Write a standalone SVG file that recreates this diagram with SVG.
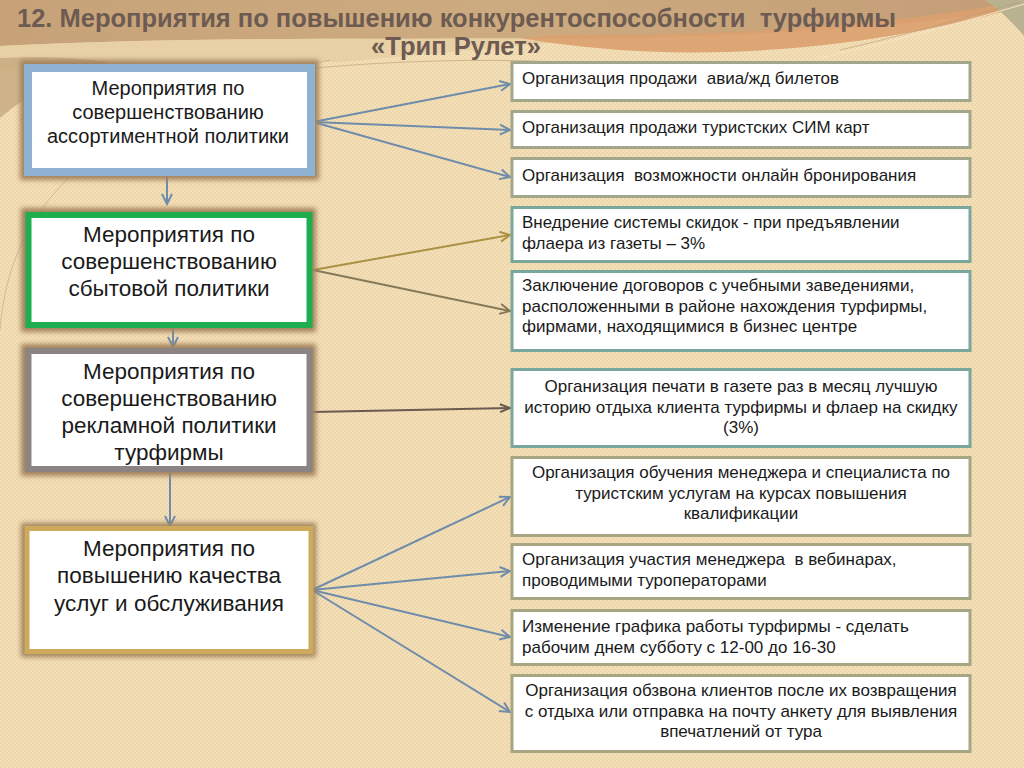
<svg xmlns="http://www.w3.org/2000/svg" width="1024" height="768" viewBox="0 0 1024 768" xml:space="preserve">
<defs>
<style>
text{white-space:pre}
.t{font-family:"Liberation Sans",Arial,sans-serif;fill:#1a1a1a}
.title{font-family:"Liberation Sans",Arial,sans-serif;font-weight:bold;font-size:25.5px;fill:#6d5b52}
.lt{font-size:22.5px;text-anchor:middle}
.la{font-size:20px;text-anchor:middle}
.rt{font-size:17px}
.rc{font-size:17px;text-anchor:middle}
.rb{fill:#fff;stroke-width:3}
.g1{stroke:#a2a68b}
.g2{stroke:#7aa79b}
.g3{stroke:#a6a683}
.lb{fill:#fff}
.sh{fill:#a3835f;filter:url(#blur)}
.c{fill:none;stroke-width:2}
</style>
<filter id="blur" x="-10%" y="-20%" width="120%" height="140%"><feGaussianBlur stdDeviation="2.5"/></filter>
<filter id="soft" x="-20%" y="-50%" width="140%" height="200%"><feGaussianBlur stdDeviation="4"/></filter>
<pattern id="tex" width="4" height="4" patternUnits="userSpaceOnUse">
<path d="M0,4 L4,0" stroke="#b89868" stroke-width="0.6" opacity="0.35"/>
<path d="M0,0 L4,4" stroke="#ffffff" stroke-width="0.5" opacity="0.25"/>
</pattern>
<linearGradient id="topg" x1="0" y1="0" x2="1" y2="0">
<stop offset="0" stop-color="#c7a279"/>
<stop offset="0.5" stop-color="#cdab80"/>
<stop offset="1" stop-color="#c39d76"/>
</linearGradient>
<marker id="mb" markerUnits="userSpaceOnUse" markerWidth="14" markerHeight="14" refX="11" refY="6" orient="auto"><path d="M1,1 L11,6 L1,11" fill="none" stroke="#6f8cab" stroke-width="2"/></marker>
<marker id="mg" markerUnits="userSpaceOnUse" markerWidth="14" markerHeight="14" refX="11" refY="6" orient="auto"><path d="M1,1 L11,6 L1,11" fill="none" stroke="#ab9243" stroke-width="2"/></marker>
<marker id="mo" markerUnits="userSpaceOnUse" markerWidth="14" markerHeight="14" refX="11" refY="6" orient="auto"><path d="M1,1 L11,6 L1,11" fill="none" stroke="#857a58" stroke-width="2"/></marker>
<marker id="md" markerUnits="userSpaceOnUse" markerWidth="14" markerHeight="14" refX="11" refY="6" orient="auto"><path d="M1,2 L11,6 L1,10" fill="none" stroke="#6b5a4f" stroke-width="2"/></marker>
</defs>

<g id="background">
<rect width="1024" height="768" fill="#f3ddb3"/>
<rect width="1024" height="768" fill="url(#tex)"/>
<path d="M0,0 H1024 V8 C900,28 760,36 600,38 C420,40 200,36 0,46 Z" fill="url(#topg)"/>
<path d="M0,46 C200,36 420,40 600,38 C480,50 380,58 340,62 C200,58 80,60 0,70 Z" fill="#e6cda3" opacity="0.8"/>
<path d="M0,58 C40,56 80,58 110,62 C70,74 30,92 0,118 Z" fill="#c8ab80" opacity="0.85"/>
<path d="M520,38 C680,66 860,52 1024,6 L1024,0 C880,28 720,36 560,35 Z" fill="#dba06e" opacity="0.9"/>
<path d="M985,0 H1024 V36 C1010,20 1000,10 985,0 Z" fill="#b9b291"/>
<path d="M0,330 C10,200 100,110 330,60" fill="none" stroke="#c2a57e" stroke-width="1" opacity="0.6"/>
<path d="M20,120 C200,70 400,55 560,62" fill="none" stroke="#b99a74" stroke-width="1" opacity="0.6"/>
<path d="M820,58 C900,40 970,20 1024,4" fill="none" stroke="#f4e2c2" stroke-width="1.2" opacity="0.9"/>
<path d="M840,50 C910,34 970,16 1020,2" fill="none" stroke="#b89a74" stroke-width="1" opacity="0.6"/>
</g>

<g id="title">
<text class="title" x="17" y="27">12. Мероприятия по повышению конкурентоспособности  турфирмы</text>
<text class="title" x="456" y="55" text-anchor="middle">«Трип Рулет»</text>
</g>

<g id="connectors">
<path class="c" d="M167,176 V204" stroke="#6f8cab" marker-end="url(#mb)"/>
<path class="c" d="M173,328 V347" stroke="#6f8cab" marker-end="url(#mb)"/>
<path class="c" d="M170,472 V526" stroke="#6f8cab" marker-end="url(#mb)"/>
<path class="c" d="M313,122 L510,84" stroke="#6f8cab" marker-end="url(#mb)"/>
<path class="c" d="M313,122 L510,130" stroke="#6f8cab" marker-end="url(#mb)"/>
<path class="c" d="M313,122 L510,177" stroke="#6f8cab" marker-end="url(#mb)"/>
<path class="c" d="M313,270 L510,235" stroke="#ab9243" marker-end="url(#mg)"/>
<path class="c" d="M313,270 L510,311" stroke="#857a58" marker-end="url(#mo)"/>
<path class="c" d="M313,412 L510,408" stroke="#6b5a4f" marker-end="url(#md)"/>
<path class="c" d="M312,590 L510,497" stroke="#6f8cab" marker-end="url(#mb)"/>
<path class="c" d="M312,590 L510,571" stroke="#6f8cab" marker-end="url(#mb)"/>
<path class="c" d="M312,590 L510,637" stroke="#6f8cab" marker-end="url(#mb)"/>
<path class="c" d="M312,590 L510,712" stroke="#6f8cab" marker-end="url(#mb)"/>
</g>

<g id="nodeA">
<rect class="sh" x="20" y="60" width="299" height="120"/>
<rect class="lb" x="28" y="68" width="283" height="104" stroke="#8fb1d2" stroke-width="8"/>
<text class="t la"><tspan x="168" y="95">Мероприятия по</tspan><tspan x="168" y="119">совершенствованию</tspan><tspan x="168" y="143">ассортиментной политики</tspan></text>
</g>
<g id="nodeB">
<rect class="sh" x="21" y="208" width="295" height="124"/>
<rect class="lb" x="28.5" y="215" width="281" height="110" stroke="#1fae4f" stroke-width="6"/>
<text class="t lt"><tspan x="169" y="242">Мероприятия по</tspan><tspan x="169" y="269">совершенствованию</tspan><tspan x="169" y="296">сбытовой политики</tspan></text>
</g>
<g id="nodeC">
<rect class="sh" x="21" y="344" width="295" height="132"/>
<rect class="lb" x="28.5" y="351" width="281" height="118" stroke="#8c8483" stroke-width="6"/>
<text class="t lt"><tspan x="169" y="379">Мероприятия по</tspan><tspan x="169" y="406">совершенствованию</tspan><tspan x="169" y="433">рекламной политики</tspan><tspan x="169" y="460">турфирмы</tspan></text>
</g>
<g id="nodeD">
<rect class="sh" x="21" y="523" width="295" height="134"/>
<rect class="lb" x="27" y="528.5" width="284" height="123" stroke="#cdaa5c" stroke-width="5"/>
<text class="t lt"><tspan x="169" y="556">Мероприятия по</tspan><tspan x="169" y="583">повышению качества</tspan><tspan x="169" y="611">услуг и обслуживания</tspan></text>
</g>

<g id="r1"><rect class="rb g1" x="512" y="62.5" width="458" height="38"/><text class="t rt" x="522" y="84">Организация продажи  авиа/жд билетов</text></g>
<g id="r2"><rect class="rb g1" x="512" y="111.5" width="458" height="36"/><text class="t rt" x="522" y="133">Организация продажи туристских СИМ карт</text></g>
<g id="r3"><rect class="rb g1" x="512" y="158.5" width="458" height="38"/><text class="t rt" x="522" y="181">Организация  возможности онлайн бронирования</text></g>
<g id="r4"><rect class="rb g2" x="512" y="207.5" width="458" height="54"/><text class="t rt"><tspan x="522" y="228">Внедрение системы скидок - при предъявлении</tspan><tspan x="522" y="249">флаера из газеты – 3%</tspan></text></g>
<g id="r5"><rect class="rb g2" x="512" y="271.5" width="458" height="79"/><text class="t rt"><tspan x="522" y="291">Заключение договоров с учебными заведениями,</tspan><tspan x="522" y="311.5">расположенными в районе нахождения турфирмы,</tspan><tspan x="522" y="332">фирмами, находящимися в бизнес центре</tspan></text></g>
<g id="r6"><rect class="rb g2" x="512" y="369.5" width="458" height="77"/><text class="t rc"><tspan x="741" y="392">Организация печати в газете раз в месяц лучшую</tspan><tspan x="741" y="412.5">историю отдыха клиента турфирмы и флаер на скидку</tspan><tspan x="741" y="433">(3%)</tspan></text></g>
<g id="r7"><rect class="rb g3" x="512" y="457.5" width="458" height="78"/><text class="t rc"><tspan x="741" y="478">Организация обучения менеджера и специалиста по</tspan><tspan x="741" y="498.5">туристским услугам на курсах повышения</tspan><tspan x="741" y="519">квалификации</tspan></text></g>
<g id="r8"><rect class="rb g3" x="512" y="544.5" width="458" height="54"/><text class="t rt"><tspan x="522" y="565">Организация участия менеджера  в вебинарах,</tspan><tspan x="522" y="585.5">проводимыми туроператорами</tspan></text></g>
<g id="r9"><rect class="rb g3" x="512" y="610.5" width="458" height="54"/><text class="t rt"><tspan x="522" y="632">Изменение графика работы турфирмы - сделать</tspan><tspan x="522" y="652.5">рабочим днем субботу с 12-00 до 16-30</tspan></text></g>
<g id="r10"><rect class="rb g3" x="512" y="675.5" width="458" height="76"/><text class="t rc"><tspan x="741" y="696">Организация обзвона клиентов после их возвращения</tspan><tspan x="741" y="716.5">с отдыха или отправка на почту анкету для выявления</tspan><tspan x="741" y="737">впечатлений от тура</tspan></text></g>
</svg>
